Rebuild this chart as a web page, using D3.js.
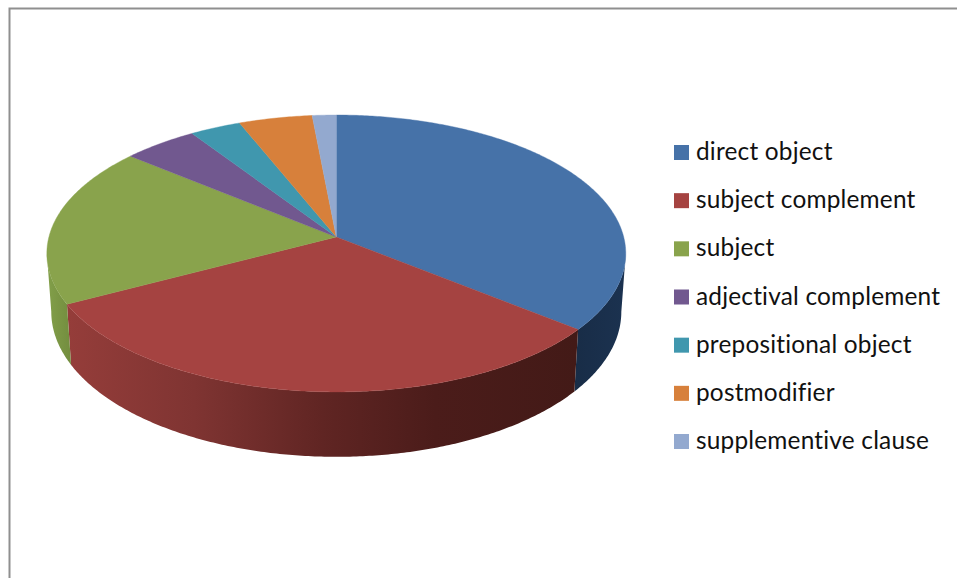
<!DOCTYPE html>
<html><head><meta charset="utf-8">
<script src="https://cdn.jsdelivr.net/npm/d3@7"></script>
<style>html,body{margin:0;padding:0;background:#fff}svg{display:block}text{font-variant-ligatures:none}</style>
</head><body><svg id="c" width="957" height="578"></svg>
<script>
const categories = ["direct object","subject complement","subject","adjectival complement","prepositional object","postmodifier","supplementive clause"];
const values = [35.8,31.5,18.7,4.7,3.2,4.6,1.5];
const colors = ["#4672a8","#a54341","#89a34c","#71588f","#4097ae","#d7803b","#93a9cf"];

const svg = d3.select("#c");
const W = 957, H = 578;
// frame
svg.append("path").attr("d", d3.line()([[W,8.5],[9.5,8.5],[9.5,H]])).attr("fill","none").attr("stroke","#8f8f8f").attr("stroke-width",2);

// perspective view of the disc: unit-circle point -> screen
const persp = 0.119;
const topFace = {cx:336.3, cy:237, a:136.5, b:287.4};
const botFace = {cx:336.3, cy:294.5, a:143, b:283};
const project = (f, t) => {
  const u = Math.sin(t), v = Math.cos(t), s = 1 + persp*v;
  return [f.cx + f.b*u/s, f.cy - f.a*v/s];
};
const arcPts = (f, t0, t1) => {
  const n = Math.max(2, Math.ceil(Math.abs(t1-t0)/0.01));
  return d3.range(n+1).map(i => project(f, t0 + (t1-t0)*i/n));
};
const line = d3.line();
const arcs = d3.pie().sort(null).value(d=>d)(values);

// visible side range: between the two silhouette tangents
const visA = Math.acos(-persp), visB = 2*Math.PI - visA;

const defs = svg.append("defs");
const grad = (id, x1, x2, stops) => {
  const g = defs.append("linearGradient").attr("id",id).attr("gradientUnits","userSpaceOnUse")
    .attr("x1",x1).attr("x2",x2).attr("y1",0).attr("y2",0);
  stops.forEach(([o,c]) => g.append("stop").attr("offset",o).attr("stop-color",c));
};
grad("s0",570,626,[[0,"#182c46"],[1,"#1b3250"]]);
grad("s1",67,578,[[0,"#953d3a"],[0.25,"#7f3432"],[0.5,"#602523"],[0.72,"#4b1c1a"],[1,"#431a17"]]);
grad("s2",46,72,[[0,"#83a04a"],[1,"#728c3e"]]);

// side walls
arcs.forEach((d,i) => {
  const t0 = Math.max(d.startAngle, visA), t1 = Math.min(d.endAngle, visB);
  if (t1 <= t0) return;
  const pts = arcPts(topFace,t0,t1).concat(arcPts(botFace,t1,t0));
  svg.append("path").attr("d", line(pts)+"Z").attr("fill",`url(#s${i})`);
});
// top face
arcs.forEach((d,i) => {
  const pts = [[topFace.cx,topFace.cy]].concat(arcPts(topFace,d.startAngle,d.endAngle));
  svg.append("path").attr("d", line(pts)+"Z").attr("fill",colors[i]).attr("stroke",colors[i]).attr("stroke-width",0.4);
});

// legend
const y = d3.scalePoint().domain(categories).range([152.5,441.5]);
const leg = svg.selectAll("g.l").data(categories).join("g").attr("class","l")
  .attr("transform",d=>`translate(674,${y(d)})`);
leg.append("rect").attr("x",0).attr("y",-7.5).attr("width",15).attr("height",15).attr("fill",(d,i)=>colors[i]);
leg.append("text").attr("x",22).attr("y",7.5).attr("font-family","Lato, Carlito, sans-serif").attr("font-size",24.4).attr("letter-spacing",0.2).attr("fill","#111").text(d=>d);
</script></body></html>
